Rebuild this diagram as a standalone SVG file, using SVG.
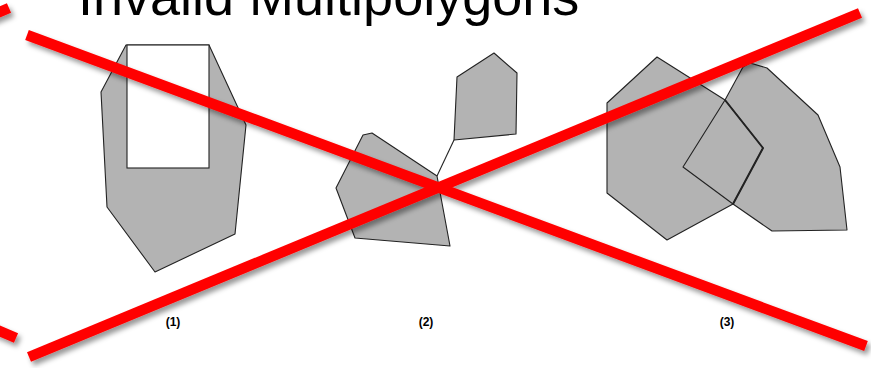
<svg xmlns="http://www.w3.org/2000/svg" width="871" height="368" viewBox="0 0 871 368">
<style>
.title{font-family:"Liberation Sans",Arial,sans-serif;font-size:54px;fill:#000}
.lbl{font-family:"Liberation Sans",Arial,sans-serif;font-size:12px;font-weight:bold;fill:#000;text-anchor:middle}
.poly{fill:#b3b3b3;stroke:none}
.edge{fill:none;stroke:#222;stroke-width:1.1;stroke-linejoin:round}
.hole{fill:#fff;stroke:#222;stroke-width:1.1}
.cross{stroke:#ff0000;stroke-width:10.5;stroke-linecap:butt;fill:none}
</style>
<defs>
<filter id="sh" x="-10%" y="-10%" width="120%" height="140%">
<feDropShadow dx="3" dy="4" stdDeviation="2.5" flood-color="#000" flood-opacity="0.4"/>
</filter>
</defs>
<rect width="871" height="368" fill="#fff"/>
<text class="title" x="78" y="15">Invalid Multipolygons</text>
<g id="mp1">
<polygon class="poly" points="126,45 209,45 246,125 235,234 155,272 107,207 101,92"/>
<polygon class="edge" points="126,45 209,45 246,125 235,234 155,272 107,207 101,92"/>
<rect class="hole" x="127" y="45" width="82" height="123"/>
</g>
<g id="mp2">
<polygon class="poly" points="457,77 494,53 517,73 516,134 454,140"/>
<polygon class="edge" points="457,77 494,53 517,73 516,134 454,140"/>
<polygon class="poly" points="363,135 372,133 437,176 450,246 355,238 336,188"/>
<polygon class="edge" points="363,135 372,133 437,176 450,246 355,238 336,188"/>
<line class="edge" x1="454" y1="140" x2="437" y2="176"/>
</g>
<g id="mp3">
<polygon class="poly" points="607,103 657,57 725,100 763,148 733,204 667,240 607,193"/>
<polygon class="poly" points="743,67 750,63 767,68 818,115 840,167 847,230 772,231 733,204 683,167 725,100"/>
<polygon class="edge" points="607,103 657,57 725,100 763,148 733,204 667,240 607,193"/>
<polygon class="edge" points="743,67 750,63 767,68 818,115 840,167 847,230 772,231 733,204 683,167 725,100"/>
<polyline class="edge" style="stroke-width:2" points="725,100 763,148 733,204"/>
</g>
<g id="labels">
<text class="lbl" x="173" y="326">(1)</text>
<text class="lbl" x="426" y="326">(2)</text>
<text class="lbl" x="727" y="326">(3)</text>
</g>
<g id="connectors" filter="url(#sh)">
<line class="cross" x1="27" y1="35" x2="866" y2="346"/>
<line class="cross" x1="29" y1="357" x2="860" y2="13"/>
<line class="cross" x1="-12" y1="17" x2="9" y2="8"/>
<line class="cross" x1="-12" y1="326" x2="16" y2="338"/>
</g>
</svg>
